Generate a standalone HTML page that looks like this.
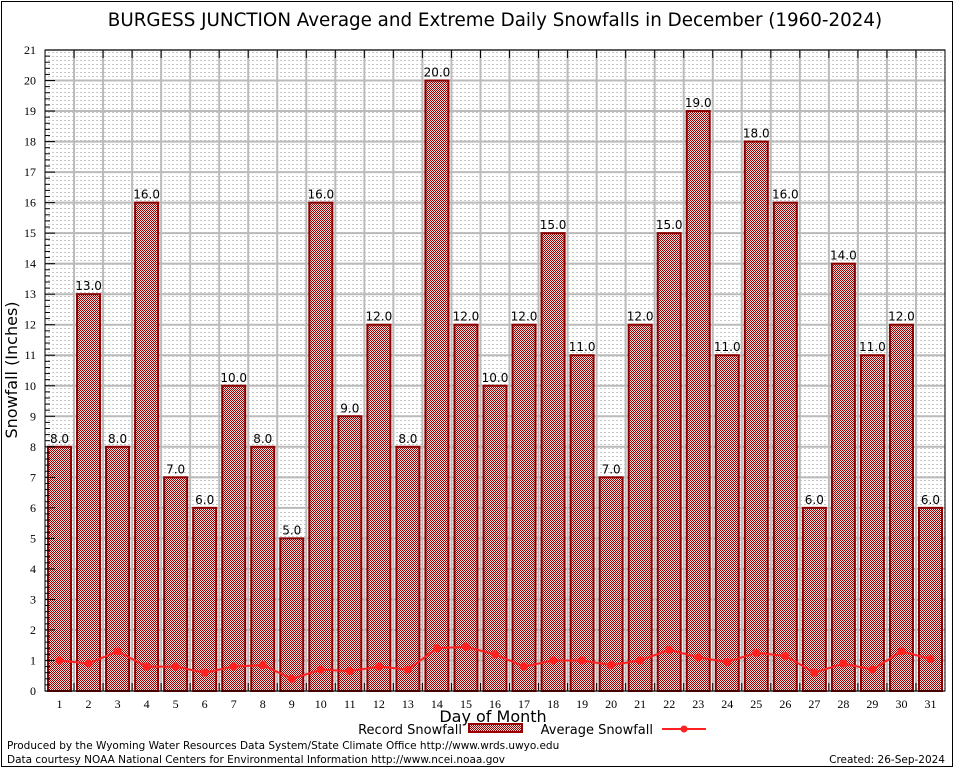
<!DOCTYPE html>
<html><head><meta charset="utf-8"><style>
html,body{margin:0;padding:0;background:#fff}
svg{display:block;font-family:"DejaVu Sans","Liberation Sans",sans-serif}
</style></head><body>
<svg id="chart" width="954" height="768" viewBox="0 0 954 768">
<defs>
<pattern id="chk" width="2" height="2" patternUnits="userSpaceOnUse">
<rect width="2" height="2" fill="#f4dcdc"/><rect width="1" height="1" fill="#9a0000"/><rect x="1" y="1" width="1" height="1" fill="#9a0000"/>
</pattern>
<pattern id="dots" width="4" height="4" patternUnits="userSpaceOnUse">
<rect width="4" height="4" fill="#fff"/><rect width="2" height="1" fill="#c8c8c8"/>
</pattern>
</defs>
<rect x="1.5" y="1.5" width="951" height="765" fill="#fff" stroke="#000"/>
<text x="495" y="26" font-size="18.3" text-anchor="middle">BURGESS JUNCTION Average and Extreme Daily Snowfalls in December (1960-2024)</text>
<rect x="45" y="50" width="900" height="641" fill="url(#dots)"/>
<g id="grid"></g>
<g id="bars"></g>
<g id="avg"></g>
<g id="axes"></g>
<rect x="45" y="50" width="900" height="641" fill="none" stroke="#000"/>
<text x="17" y="370" font-size="16" text-anchor="middle" transform="rotate(-90 17 370)">Snowfall (Inches)</text>
<text x="493" y="722" font-size="16" text-anchor="middle">Day of Month</text>
<g>
<text x="462" y="734" font-size="13" text-anchor="end">Record Snowfall</text>
<rect x="469" y="724" width="53" height="8" fill="url(#chk)" stroke="#9a0000" stroke-width="2"/>
<text x="653" y="734" font-size="13" text-anchor="end">Average Snowfall</text>
<line x1="662" y1="729" x2="706" y2="729" stroke="#ff2020" stroke-width="2"/>
<circle cx="684" cy="729" r="3.5" fill="#ff2020"/>
</g>
<text x="7" y="749" font-size="10.5">Produced by the Wyoming Water Resources Data System/State Climate Office http://www.wrds.uwyo.edu</text>
<text x="7" y="763" font-size="10.5">Data courtesy NOAA National Centers for Environmental Information http://www.ncei.noaa.gov</text>
<text x="945" y="763" font-size="10.5" text-anchor="end">Created: 26-Sep-2024</text>
</svg>
<script>
const days = [1,2,3,4,5,6,7,8,9,10,11,12,13,14,15,16,17,18,19,20,21,22,23,24,25,26,27,28,29,30,31];
const recordSnow = [8,13,8,16,7,6,10,8,5,16,9,12,8,20,12,10,12,15,11,7,12,15,19,11,18,16,6,14,11,12,6];
const avgSnow = [1.0,0.9,1.3,0.8,0.8,0.6,0.8,0.85,0.4,0.7,0.65,0.8,0.7,1.4,1.45,1.2,0.8,1.0,1.0,0.85,1.0,1.35,1.1,0.95,1.25,1.15,0.6,0.9,0.7,1.3,1.05];
const yTicks = [0,1,2,3,4,5,6,7,8,9,10,11,12,13,14,15,16,17,18,19,20,21];

const NS = "http://www.w3.org/2000/svg";
const L = 45, R = 945, T = 50, B = 691, YMAX = 21;
const step = (R - L) / days.length;
const xC = i => L + step * (i + 0.5);
const y = v => B - (v / YMAX) * (B - T);
function mk(tag, attrs, parent) {
  const e = document.createElementNS(NS, tag);
  for (const k in attrs) e.setAttribute(k, attrs[k]);
  parent.appendChild(e);
  return e;
}
const grid = document.getElementById('grid');
const bars = document.getElementById('bars');
const avgG = document.getElementById('avg');
const axes = document.getElementById('axes');

yTicks.forEach(t => {
  const yy = y(t);
  const g = mk('line', {x1: L, x2: R, y1: yy, y2: yy, stroke: '#bbb', 'stroke-width': 2}, grid);
  
  
  const tk = mk('line', {x1: L, x2: L + 10, y1: yy, y2: yy, stroke: '#000'}, axes);
  
  
  const lb = mk('text', {x: L - 9, y: yy + 4, 'font-size': 12, 'text-anchor': 'end', 'font-family': 'Liberation Serif, serif'}, axes);
  lb.textContent = t;
  
  
  if (t < YMAX) for (let m = 1; m < 5; m++) {
    const my = y(t + m * 0.2);
    const mt = mk('line', {x1: L, x2: L + 5, y1: my, y2: my, stroke: '#000'}, axes);
    
    
  }
});
for (let i = 1; i < days.length; i++) {
  const xx = L + step * i;
  const g = mk('line', {x1: xx, x2: xx, y1: T, y2: B, stroke: '#bbb', 'stroke-width': 2}, grid);
  
  
  const t1 = mk('line', {x1: xx, x2: xx, y1: B, y2: B - 8, stroke: '#000'}, axes);
  
  
  const t2 = mk('line', {x1: xx, x2: xx, y1: T, y2: T + 8, stroke: '#000'}, axes);
  
  
}
days.forEach((d, i) => {
  const v = recordSnow[i];
  const bw = 23;
  const r = mk('rect', {x: xC(i) - bw / 2, y: y(v), width: bw, height: B - y(v), fill: 'url(#chk)', stroke: '#8b0000', 'stroke-width': 2}, bars);
  
  
  const vl = mk('text', {x: xC(i), y: y(v) - 4, 'font-size': 12, 'text-anchor': 'middle'}, bars);
  vl.textContent = v.toFixed(1);
  
  
  const xl = mk('text', {x: xC(i), y: B + 17, 'font-size': 12, 'text-anchor': 'middle', 'font-family': 'Liberation Serif, serif'}, axes);
  xl.textContent = d;
  
  
});
const pts = avgSnow.map((v, i) => xC(i) + ',' + y(v)).join(' ');
const pl = mk('polyline', {points: pts, fill: 'none', stroke: '#ff2020', 'stroke-width': 2}, avgG);


avgSnow.forEach((v, i) => {
  const c = mk('circle', {cx: xC(i), cy: y(v), r: 4, fill: '#ff2020'}, avgG);
  
  
});
</script>
</body></html>
